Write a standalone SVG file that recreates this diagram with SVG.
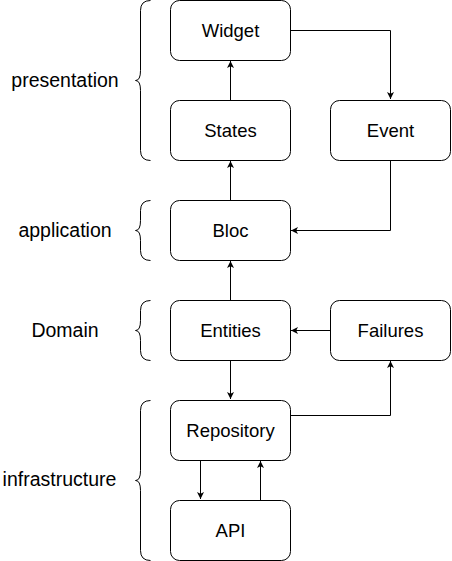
<svg xmlns="http://www.w3.org/2000/svg" width="452" height="561" viewBox="0 0 452 561">
<style>
.box{fill:#fff;stroke:#000;stroke-width:1}
.lbl{font-family:"Liberation Sans",Arial,sans-serif;font-size:18.5px;fill:#000;text-anchor:middle;dominant-baseline:central}
.side{font-size:19.5px}
.edge{fill:none;stroke:#000;stroke-width:1}
.br{fill:none;stroke:#000;stroke-width:1}
</style>
<defs>
<marker id="ah" markerWidth="8" markerHeight="8" refX="7" refY="4" orient="auto" markerUnits="userSpaceOnUse">
<path d="M0,0.5 L7,4 L0,7.5 L1.8,4 Z" fill="#000"/>
</marker>
</defs>
<rect width="452" height="561" fill="#fff"/>
<g id="brackets">
<path class="br" d="M150.5,0.5 Q140.5,0.5 140.5,10.5 L140.5,70.5 Q140.5,80.5 135.5,80.5 Q140.5,80.5 140.5,90.5 L140.5,150.5 Q140.5,160.5 150.5,160.5"/>
<path class="br" d="M150.5,200.5 Q140.5,200.5 140.5,210.5 L140.5,220.5 Q140.5,230.5 135.5,230.5 Q140.5,230.5 140.5,240.5 L140.5,250.5 Q140.5,260.5 150.5,260.5"/>
<path class="br" d="M150.5,300.5 Q140.5,300.5 140.5,310.5 L140.5,320.5 Q140.5,330.5 135.5,330.5 Q140.5,330.5 140.5,340.5 L140.5,350.5 Q140.5,360.5 150.5,360.5"/>
<path class="br" d="M150.5,400.5 Q140.5,400.5 140.5,410.5 L140.5,470.5 Q140.5,480.5 135.5,480.5 Q140.5,480.5 140.5,490.5 L140.5,550.5 Q140.5,560.5 150.5,560.5"/>
</g>
<g id="layer-labels">
<text class="lbl side" x="65" y="80">presentation</text>
<text class="lbl side" x="65" y="230">application</text>
<text class="lbl side" x="65" y="330">Domain</text>
<text class="lbl side" x="59.5" y="479">infrastructure</text>
</g>
<g id="connectors">
<path class="edge" d="M230.5,100 L230.5,61" marker-end="url(#ah)"/>
<path class="edge" d="M230.5,200 L230.5,161" marker-end="url(#ah)"/>
<path class="edge" d="M230.5,300 L230.5,261" marker-end="url(#ah)"/>
<path class="edge" d="M290.5,30.5 L390.5,30.5 L390.5,99" marker-end="url(#ah)"/>
<path class="edge" d="M390.5,160 L390.5,230.5 L291,230.5" marker-end="url(#ah)"/>
<path class="edge" d="M330,330.5 L291,330.5" marker-end="url(#ah)"/>
<path class="edge" d="M230.5,360 L230.5,399" marker-end="url(#ah)"/>
<path class="edge" d="M290.5,415.5 L390.5,415.5 L390.5,361" marker-end="url(#ah)"/>
<path class="edge" d="M200.5,460 L200.5,499" marker-end="url(#ah)"/>
<path class="edge" d="M260.5,500 L260.5,461" marker-end="url(#ah)"/>
</g>
<g id="widget"><rect class="box" x="170.5" y="0.5" width="120" height="60" rx="9"/><text class="lbl" x="230.5" y="30.5">Widget</text></g>
<g id="states"><rect class="box" x="170.5" y="100.5" width="120" height="60" rx="9"/><text class="lbl" x="230.5" y="130.5">States</text></g>
<g id="event"><rect class="box" x="330.5" y="100.5" width="120" height="60" rx="9"/><text class="lbl" x="390.5" y="130.5">Event</text></g>
<g id="bloc"><rect class="box" x="170.5" y="200.5" width="120" height="60" rx="9"/><text class="lbl" x="230.5" y="230.5">Bloc</text></g>
<g id="entities"><rect class="box" x="170.5" y="300.5" width="120" height="60" rx="9"/><text class="lbl" x="230.5" y="330.5">Entities</text></g>
<g id="failures"><rect class="box" x="330.5" y="300.5" width="120" height="60" rx="9"/><text class="lbl" x="390.5" y="330.5">Failures</text></g>
<g id="repository"><rect class="box" x="170.5" y="400.5" width="120" height="60" rx="9"/><text class="lbl" x="230.5" y="430.5">Repository</text></g>
<g id="api"><rect class="box" x="170.5" y="500.5" width="120" height="60" rx="9"/><text class="lbl" x="230.5" y="530.5">API</text></g>
</svg>
